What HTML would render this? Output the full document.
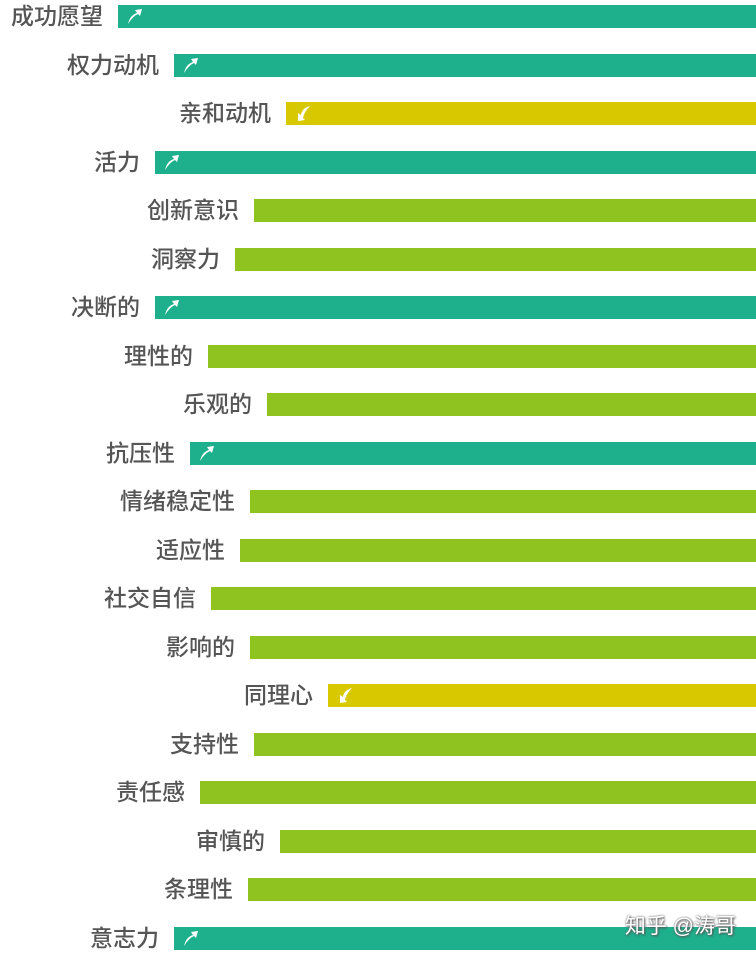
<!DOCTYPE html>
<html><head><meta charset="utf-8"><style>
body{margin:0;width:756px;height:957px;background:#fff;position:relative;overflow:hidden;font-family:"Liberation Sans","Noto Sans CJK SC",sans-serif}
.b{position:absolute;height:23px;right:0}
.t{background:#1eaf8c}.g{background:#8fc31f}.y{background:#d8c800}
.l{position:absolute;font-size:23px;color:#555;text-align:right;line-height:23px;width:300px;font-weight:500}
.a{position:absolute;left:8px;top:2px}
.wm{position:absolute;right:20px;top:910px;font-size:21px;color:#fff;text-shadow:1px 1px 2px #555,0 0 2px #666}
</style></head><body>
<div id="c"></div>
<div class="wm">知乎 @涛哥</div>
<script>
var d=[["成功愿望",118,"t","u"],["权力动机",174,"t","u"],["亲和动机",286,"y","d"],["活力",155,"t","u"],["创新意识",254,"g"],["洞察力",235,"g"],["决断的",155,"t","u"],["理性的",208,"g"],["乐观的",267,"g"],["抗压性",190,"t","u"],["情绪稳定性",250,"g"],["适应性",240,"g"],["社交自信",211,"g"],["影响的",250,"g"],["同理心",328,"y","d"],["支持性",254,"g"],["责任感",200,"g"],["审慎的",280,"g"],["条理性",248,"g"],["意志力",174,"t","u"]];
var h="";
d.forEach(function(r,i){var top=Math.round(5+i*48.5);
h+='<div class="l" style="left:'+(r[1]-315)+'px;top:'+top+'px">'+r[0]+'</div>';
var ar="";
if(r[3]=="u")ar='<svg class="a" width="18" height="19" viewBox="0 0 18 19"><path d="M2 17 Q4 8 11 6 L9 3 L16 2 L14 9 L12 7 Q7 9 2 17Z" fill="#fff"/></svg>';
if(r[3]=="d")ar='<svg class="a" width="18" height="19" viewBox="0 0 18 19"><path d="M16 2 Q8 4 7 11 L4 9 L4 17 L11 16 L9 14 Q10 8 16 2Z" fill="#fff"/></svg>';
h+='<div class="b '+r[2]+'" style="left:'+r[1]+'px;top:'+top+'px">'+ar+'</div>';});
document.getElementById("c").innerHTML=h;
</script>
</body></html>
